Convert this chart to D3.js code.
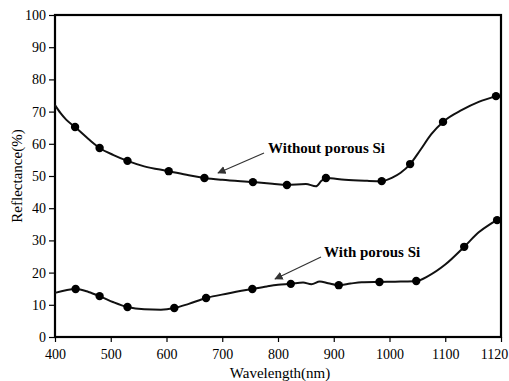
<!DOCTYPE html>
<html>
<head>
<meta charset="utf-8">
<script src="https://cdn.jsdelivr.net/npm/d3@7"></script>
<style>
  body { margin: 0; background: #fff; }
  svg text { font-family: "Liberation Serif", "DejaVu Serif", serif; }
</style>
</head>
<body>
<svg id="chart" width="509" height="381"></svg>
<script>
// tick labels on the x axis (last one is printed as 1120 at the right edge)
var xTicks = [400, 500, 600, 700, 800, 900, 1000, 1100, 1200]
var xTickLabels = ["400", "500", "600", "700", "800", "900", "1000", "1100", "1120"]
var yTicks = [0, 10, 20, 30, 40, 50, 60, 70, 80, 90, 100]

// without porous Si - traced curve
var topWave = [400, 410, 420, 436, 460, 480, 505, 530, 560, 604, 640, 668, 700, 755, 790, 816, 850, 868, 878, 886, 920, 960, 986, 1005, 1020, 1037, 1055, 1075, 1096, 1130, 1160, 1191]
var topRefl = [72, 69.5, 67.5, 65.2, 61.5, 58.7, 56.5, 54.7, 53, 51.5, 50.2, 49.4, 48.8, 48.1, 47.6, 47.2, 47.5, 46.8, 48.5, 49.4, 48.8, 48.5, 48.4, 49.5, 51, 53.7, 58, 63, 66.8, 70.5, 73, 74.8]
var topMarkWave = [436, 480, 530, 604, 668, 755, 816, 886, 986, 1037, 1096, 1191]
var topMarkRefl = [65.2, 58.7, 54.7, 51.5, 49.4, 48.1, 47.2, 49.4, 48.4, 53.7, 66.8, 74.8]

// with porous Si - traced curve
var lowWave = [400, 437, 460, 480, 505, 530, 560, 590, 614, 640, 671, 710, 754, 780, 800, 823, 845, 860, 875, 890, 909, 930, 950, 982, 1020, 1048, 1070, 1100, 1134, 1160, 1180, 1193]
var lowRefl = [13.7, 14.9, 14, 12.7, 10.8, 9.3, 8.6, 8.5, 9.0, 10.3, 12.1, 13.5, 14.9, 15.7, 16.2, 16.5, 16.9, 16.4, 17.2, 16.7, 16.1, 16.6, 17.0, 17.1, 17.2, 17.4, 19, 22.5, 28, 32.5, 35, 36.3]
var lowMarkWave = [437, 480, 530, 614, 671, 754, 823, 909, 982, 1048, 1134, 1193]
var lowMarkRefl = [14.9, 12.7, 9.3, 9.0, 12.1, 14.9, 16.5, 16.1, 17.1, 17.4, 28, 36.3]

var serif = "Liberation Serif, DejaVu Serif, serif"
var svg = d3.select("#chart")
var margin = {left: 55, top: 15, right: 8, bottom: 44}
var width = 509 - margin.left - margin.right
var height = 381 - margin.top - margin.bottom

var g = svg.append("g")
   .attr("transform", "translate(" + margin.left + "," + margin.top + ")")

var xScale = d3.scaleLinear().domain([400, 1200]).range([0, width])
var yScale = d3.scaleLinear().domain([0, 100]).range([height, 0])

var xAxis = d3.axisBottom(xScale)
   .tickValues(xTicks)
   .tickSize(5)
   .tickFormat(function(d, i) { return xTickLabels[i] })
var yAxis = d3.axisLeft(yScale)
   .tickValues(yTicks)
   .tickSize(6)

var xg = g.append("g")
   .attr("transform", "translate(0," + height + ")")
   .attr("font-family", serif)
   .call(xAxis)
   .call(function(a) { a.select(".domain").remove() })
xg.selectAll("text")
   .attr("font-size", 14)
   .attr("fill", "#000")
   .attr("dy", "1.0em")
// last label sits against the right edge
xg.selectAll(".tick text")
   .filter(function(d) { return d === 1200 })
   .attr("dx", -7)

g.append("g")
   .attr("font-family", serif)
   .call(yAxis)
   .call(function(a) { a.select(".domain").remove() })
   .selectAll("text")
   .attr("font-size", 14)
   .attr("fill", "#000")

g.selectAll(".tick line").attr("stroke", "#000").attr("stroke-width", 1.2)

// frame
g.append("rect")
   .attr("x", 0).attr("y", 0)
   .attr("width", width).attr("height", height)
   .attr("fill", "none")
   .attr("stroke", "#000")
   .attr("stroke-width", 2.2)

var line = d3.line()
   .x(function(d) { return xScale(d.x) })
   .y(function(d) { return yScale(d.y) })
   .curve(d3.curveMonotoneX)

function pairs(xs, ys) {
   return xs.map(function(x, i) { return {x: x, y: ys[i]} })
}

var series = [
   {line: pairs(topWave, topRefl), marks: pairs(topMarkWave, topMarkRefl)},
   {line: pairs(lowWave, lowRefl), marks: pairs(lowMarkWave, lowMarkRefl)}
]

series.forEach(function(s) {
   g.append("path")
      .datum(s.line)
      .attr("d", line)
      .attr("fill", "none")
      .attr("stroke", "#111")
      .attr("stroke-width", 2)
   g.selectAll(null)
      .data(s.marks)
      .join("circle")
      .attr("cx", function(d) { return xScale(d.x) })
      .attr("cy", function(d) { return yScale(d.y) })
      .attr("r", 4.2)
      .attr("fill", "#000")
})

// annotations
svg.append("defs").append("marker")
   .attr("id", "arrow")
   .attr("viewBox", "0 0 10 10")
   .attr("refX", 9).attr("refY", 5)
   .attr("markerWidth", 7).attr("markerHeight", 7)
   .attr("orient", "auto")
   .append("path")
   .attr("d", "M0,0 L10,5 L0,10 z")
   .attr("fill", "#333")

svg.append("line")
   .attr("x1", 264).attr("y1", 153)
   .attr("x2", 218).attr("y2", 173)
   .attr("stroke", "#333").attr("stroke-width", 1.2)
   .attr("marker-end", "url(#arrow)")
svg.append("text")
   .attr("x", 268).attr("y", 153)
   .attr("font-family", serif)
   .attr("font-size", 15)
   .attr("font-weight", "bold")
   .text("Without porous Si")

svg.append("line")
   .attr("x1", 321).attr("y1", 257)
   .attr("x2", 275).attr("y2", 279)
   .attr("stroke", "#333").attr("stroke-width", 1.2)
   .attr("marker-end", "url(#arrow)")
svg.append("text")
   .attr("x", 324).attr("y", 257)
   .attr("font-family", serif)
   .attr("font-size", 15)
   .attr("font-weight", "bold")
   .text("With porous Si")

// axis titles
svg.append("text")
   .attr("x", 280).attr("y", 378)
   .attr("text-anchor", "middle")
   .attr("font-family", serif)
   .attr("font-size", 15)
   .text("Wavelength(nm)")
svg.append("text")
   .attr("transform", "translate(22," + (margin.top + height / 2) + ") rotate(-90)")
   .attr("text-anchor", "middle")
   .attr("font-family", serif)
   .attr("font-size", 15)
   .text("Reflectance(%)")
</script>
</body>
</html>
